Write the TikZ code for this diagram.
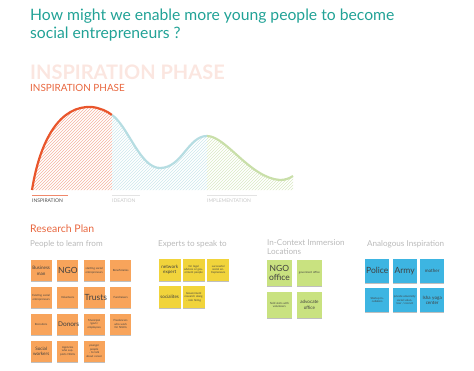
\documentclass[tikz,border=0pt]{standalone}
\usepackage{fontspec}
\setmainfont{Lato}
\usetikzlibrary{patterns,shadows}
\definecolor{qteal}{HTML}{21A296}
\definecolor{qorange}{HTML}{E9552B}
\definecolor{qhead}{HTML}{E8673F}
\definecolor{qfaint}{HTML}{FBE6E0}
\definecolor{qgrey}{HTML}{B9B9B9}
\definecolor{qcblue}{HTML}{B6DDE2}
\definecolor{qcgreen}{HTML}{C9DFA9}
\definecolor{qnorange}{HTML}{F8A45B}
\definecolor{qnyellow}{HTML}{F1D43B}
\definecolor{qngreen}{HTML}{C9E280}
\definecolor{qnblue}{HTML}{3DB5E2}

\begin{document}
\begin{tikzpicture}[
    x=1pt, y=-1pt,
    note/.style={anchor=north west, align=center, inner sep=1pt, text=black!75,
      drop shadow={shadow xshift=0pt, shadow yshift=-1.2pt, opacity=.25, fill=black}},
    orangenote/.style={note, fill=qnorange, minimum size=21pt, text width=19pt},
    yellownote/.style={note, fill=qnyellow, minimum size=22pt, text width=20pt},
    greennote/.style={note, fill=qngreen, minimum size=25.5pt, text width=23.5pt},
    bluenote/.style={note, fill=qnblue, minimum size=24pt, text width=22pt},
    bigtxt/.style={font=\fontsize{8.5}{9.5}\selectfont},
    midtxt/.style={font=\fontsize{4.6}{5.6}\selectfont},
    tinytxt/.style={font=\fontsize{2.8}{3.4}\selectfont},
    subhead/.style={anchor=base west, text=qgrey, inner sep=0pt, align=left,
      font=\fontsize{8.1}{9.8}\selectfont},
    phase/.style={anchor=base west, inner sep=0pt, text=qgrey,
      font=\fontsize{5}{5}\selectfont}
    ]
  \useasboundingbox (0,0) rectangle (474,370);

  % title
  \node [anchor=north west, inner sep=0pt, align=left, text=qteal,
    font=\fontsize{15.7}{17.5}\selectfont] (title) at (30,9)
    {How might we enable more young people to become\\social entrepreneurs ?};
  \node [anchor=base west, inner sep=0pt, text=qfaint,
    font=\bfseries\fontsize{20}{20}\selectfont] (ghost) at (30,79.5) {INSPIRATION PHASE};
  \node [anchor=base west, inner sep=0pt, text=qhead,
    font=\fontsize{9.9}{9.9}\selectfont] (phasetitle) at (30,91.5) {INSPIRATION PHASE};

  % curve
  \fill [pattern=north east lines, pattern color=qorange!45]
    (32,190) .. controls (40,140) and (60,105) .. (92,107)
    .. controls (100,108) and (107,111) .. (112,115) -- (112,190) -- cycle;
  \fill [pattern=north east lines, pattern color=qcblue!70]
    (112,115) .. controls (128,126) and (140,168) .. (160,168)
    .. controls (182,168) and (188,136) .. (207,136) -- (207,190) -- (112,190) -- cycle;
  \fill [pattern=north east lines, pattern color=qcgreen!70]
    (207,136) .. controls (226,136) and (250,178) .. (280,180)
    .. controls (286,180) and (290,178) .. (293,176) -- (293,190) -- (207,190) -- cycle;
  \draw [qorange, line width=2.2pt]
    (32,190) .. controls (40,140) and (60,105) .. (92,107)
    .. controls (100,108) and (107,111) .. (112,115);
  \draw [qcblue, line width=2.2pt]
    (112,115) .. controls (128,126) and (140,168) .. (160,168)
    .. controls (182,168) and (188,136) .. (207,136);
  \draw [qcgreen, line width=2.2pt]
    (207,136) .. controls (226,136) and (250,178) .. (280,180)
    .. controls (286,180) and (290,178) .. (293,176);

  % phase labels
  \draw [qorange!70, line width=.5pt] (32,195) -- (68,195);
  \draw [qgrey!40, line width=.5pt] (112,195) -- (140,195);
  \draw [qgrey!40, line width=.5pt] (207,195) -- (257,195);
  \node [phase, text=black!70] (insp) at (32,202) {INSPIRATION};
  \node [phase, text=qgrey!80] (idea) at (112,202) {IDEATION};
  \node [phase, text=qgrey!80] (impl) at (207,202) {IMPLEMENTATION};

  % research plan
  \node [anchor=base west, inner sep=0pt, text=qhead,
    font=\fontsize{10.5}{10.5}\selectfont] (plan) at (30,232) {Research Plan};
  \node [subhead] (people) at (30,246) {People to learn from};
  \node [subhead] (experts) at (158,246) {Experts to speak to};
  \node [subhead, anchor=north west] (immersion) at (267,239)
    {In-Context Immersion\\Locations};
  \node [subhead] (analog) at (367,246) {Analogous Inspiration};

  % people to learn from
  \node [orangenote, midtxt] (business) at (30.5,260) {Business man};
  \node [orangenote, bigtxt] (ngo) at (57,260) {NGO};
  \node [orangenote, tinytxt] (starting) at (83.5,260) {starting social entrepreneurs};
  \node [orangenote, tinytxt] (benef) at (110,260) {Beneficiaries};
  \node [orangenote, tinytxt] (existing) at (30.5,287) {Existing social entrepreneurs};
  \node [orangenote, tinytxt] (volunteers) at (57,287) {Volunteers};
  \node [orangenote, bigtxt] (trusts) at (83.5,287) {Trusts};
  \node [orangenote, tinytxt] (fundraisers) at (110,287) {Fundraisers};
  \node [orangenote, tinytxt] (recruiters) at (30.5,313.5) {Recruiters};
  \node [orangenote, font=\fontsize{6.5}{7}\selectfont] (donors) at (57,313.5) {Donors};
  \node [orangenote, tinytxt] (municipal) at (83.5,313.5) {Municipal /govt./ employees};
  \node [orangenote, tinytxt] (freelancers) at (110,313.5) {Freelancers who work for NGOs};
  \node [orangenote, midtxt] (socialw) at (30.5,340.5) {Social workers};
  \node [orangenote, tinytxt] (agencies) at (57,340.5) {Agencies who supports NGOs};
  \node [orangenote, tinytxt] (younger) at (83.5,340.5) {younger people - to talk about career};

  % experts to speak to
  \node [yellownote, midtxt] (network) at (158.5,258.5) {network expert};
  \node [yellownote, tinytxt] (legal) at (182.5,258.5) {for legal advices or goverment people};
  \node [yellownote, tinytxt] (successful) at (207,258.5) {successful social entrepreneurs};
  \node [yellownote, midtxt] (socialites) at (158.5,286) {socialites};
  \node [yellownote, tinytxt] (govresearch) at (182.5,286) {Government research along - role hiring};

  % in-context immersion locations
  \node [greennote, bigtxt] (ngooffice) at (266.5,260) {NGO office};
  \node [greennote, tinytxt] (govoffice) at (296.5,260) {goverment office};
  \node [greennote, tinytxt] (field) at (266.5,292) {field visits with volunteers};
  \node [greennote, midtxt] (advocate) at (296.5,292) {advocate office};

  % analogous inspiration
  \node [bluenote, bigtxt] (police) at (365,258.5) {Police};
  \node [bluenote, bigtxt] (army) at (392.5,258.5) {Army};
  \node [bluenote, midtxt] (mother) at (420,258.5) {mother};
  \node [bluenote, tinytxt] (startup) at (365,288) {Startup incubators};
  \node [bluenote, tinytxt] (private) at (392.5,288) {private university social volunteer / recruit};
  \node [bluenote, midtxt] (isha) at (420,288) {Isha yoga center};
\end{tikzpicture}
\end{document}
